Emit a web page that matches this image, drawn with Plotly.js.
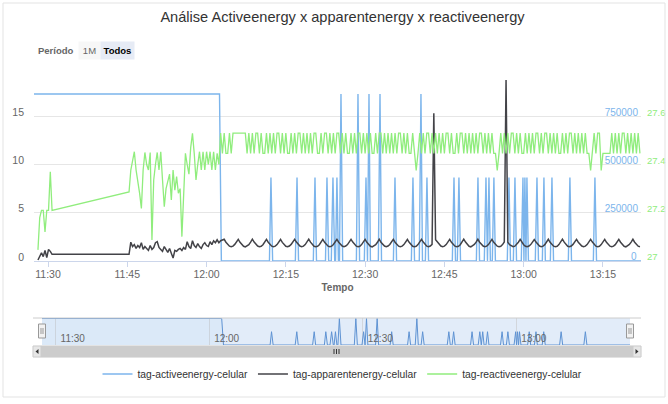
<!DOCTYPE html>
<html><head><meta charset="utf-8">
<script src="https://cdn.plot.ly/plotly-3.0.1.min.js"></script>
<style>html,body{margin:0;padding:0;background:#fff;}#chart{width:668px;height:404px;}</style>
</head><body><div id="chart"></div>
<script>
const chartTitle = 'Análise Activeenergy x apparentenergy x reactiveenergy';
const seriesNames = ['tag-activeenergy-celular', 'tag-apparentenergy-celular', 'tag-reactiveenergy-celular'];
const seriesColors = ['#7cb5ec', '#434348', '#90ed7d'];
const xAxisTitle = 'Tempo';
const rangeLabel = 'Período';
const rangeButtons = ['1M', 'Todos'];
const day = '2024-05-10';

// activeenergy: minutes after 11:00 and values
const activeMinutes = [27.35, 62.45, 62.8,
  71.9, 72.19, 72.5, 76.8, 77.11, 77.4, 80.2, 80.51, 80.8, 82.5, 82.78, 83.1,
  83.6, 83.92, 84.25, 84.4, 84.67, 84.95, 85.15, 85.43, 85.75,
  88.35, 88.65, 88.95, 89.85, 90.16, 90.45, 90.73, 91.0,
  92.5, 92.81, 93.1, 95.35, 95.65, 95.95, 98.75, 99.05, 99.35,
  100.25, 100.56, 100.85, 101.4, 101.7, 102.0, 106.5, 106.81, 107.1,
  107.45, 107.75, 108.05, 111.05, 111.35, 111.65,
  112.55, 112.86, 113.15, 113.43, 113.7, 114.07, 114.37, 114.65,
  116.9, 117.21, 117.5, 118.05, 118.35, 118.65,
  119.55, 119.86, 120.05, 120.24, 120.43, 120.62, 120.9,
  122.2, 122.51, 122.8, 123.53, 123.83, 124.1, 125.05, 125.35, 125.65,
  128.45, 128.75, 129.05, 133.18, 133.48, 133.78, 142.2];
const activeValues = [865000, 865000, 0,
  0, 433000, 0, 0, 433000, 0, 0, 433000, 0, 0, 433000, 0,
  0, 433000, 0, 0, 433000, 0, 0, 865000, 0,
  0, 865000, 0, 0, 433000, 0, 865000, 0,
  0, 865000, 0, 0, 433000, 0, 0, 433000, 0,
  0, 865000, 0, 0, 433000, 0, 0, 433000, 0,
  0, 433000, 0, 0, 433000, 0,
  0, 433000, 0, 433000, 0, 0, 433000, 0,
  0, 433000, 0, 0, 433000, 0,
  0, 433000, 0, 433000, 0, 433000, 0,
  0, 433000, 0, 0, 433000, 0, 0, 433000, 0,
  0, 433000, 0, 0, 433000, 0, 0];

// apparent / reactive energy: sampled every 20 s in two runs
const sampleSeconds = 20;
const run1Start = '11:28:06';
const apparent1 = [0.1, 0.5, 0.85, 0.45, 1.1, 0.35, 1.2, 1.0, 0.69];
const reactive1 = [27.046, 27.18, 27.21, 27.21, 27.12, 27.21, 27.21, 27.37, 27.21];

const run2Start = '11:45:20';
const apparent2 = [
  0.69,1.95,1.5,1.7,1.3,1.6,1.4,1.9,1.2,1.5, 1.3,1.1,1.6,1.2,1.4,1.9,2.0,1.4,1.2,1.0,
  1.5,1.2,0.9,1.3,0.7,0.3,1.1,1.0,1.2,1.3, 1.1,1.4,1.2,2.0,1.5,1.3,2.1,1.6,1.4,1.8,
  1.5,1.3,1.7,1.9,1.6,1.5,2.0,1.7,2.1,1.9, 2.2,1.9,
  2.1,2.2,
  2.25,1.95,1.7,1.54,1.48,1.54,1.72,1.98,
  2.24,1.94,1.69,1.53,1.47,1.55,1.7,1.96,
  2.26,1.96,1.71,1.55,1.49,1.53,1.69,1.95,
  2.25,1.95,1.7,1.54,1.48,1.54,1.7,1.95,
  2.23,1.93,1.68,1.52,1.47,1.55,1.72,1.97,
  2.25,1.96,1.71,1.55,1.49,1.54,1.7,1.94,
  2.26,1.95,1.7,1.53,1.48,1.53,1.69,1.96,
  2.24,1.94,1.7,1.54,1.47,1.54,1.71,1.95,
  2.25,1.95,1.69,1.55,1.49,1.55,1.7,1.97,
  2.25,1.96,1.71,1.54,1.48,1.53,1.7,1.95,
  2.24,1.94,1.7,1.53,1.47,1.54,1.69,1.94,
  2.26,1.95,1.7,1.55,1.48,1.55,1.71,1.96,
  2.25,1.95,1.69,1.54,1.49,1.54,1.7,1.95,
  2.23,1.94,1.71,1.53,1.47,1.53,1.7,1.97,
  2.25,1.96,1.7,1.54,1.48,1.55,1.72,15.3,
  2.2,1.95,1.7,1.55,1.49,1.54,1.7,1.95,
  2.24,1.94,1.69,1.54,1.48,1.53,1.69,1.96,
  2.26,1.96,1.71,1.53,1.47,1.55,1.71,1.95,
  2.25,1.95,1.7,1.55,1.48,1.54,1.7,1.94,
  2.24,1.94,1.7,1.54,1.49,1.53,1.7,1.97,
  18.76,1.95,1.7,1.54,1.48,1.54,1.71,1.95,
  2.25,1.95,1.69,1.53,1.47,1.55,1.7,1.96,
  2.23,1.96,1.71,1.55,1.49,1.54,1.69,1.95,
  2.25,1.94,1.7,1.54,1.48,1.53,1.7,1.94,
  2.26,1.95,1.7,1.53,1.47,1.55,1.72,1.97,
  2.24,1.95,1.69,1.55,1.48,1.54,1.7,1.95,
  2.25,1.96,1.71,1.54,1.49,1.53,1.7,1.96,
  2.25,1.94,1.7,1.54,1.48,1.54,1.69,1.95,
  2.24,1.95,1.7,1.53,1.47,1.55,1.71,1.96,
  2.25,1.95,1.7,1.54,1.48];
const reactive2 = [
  27.286,27.377,27.42,27.453,27.377,27.336,27.28,27.218,27.377,27.45,
  27.40,27.377,27.45,27.087,27.336,27.40,27.45,27.377,27.453,27.336,
  27.225,27.30,27.336,27.36,27.253,27.377,27.294,27.35,27.281,27.30,
  27.101,27.294,27.446,27.40,27.36,27.47,27.529,27.446,27.336,27.40,
  27.453,27.377,27.453,27.377,27.453,27.40,27.453,27.377,27.453,27.377,
  27.446,27.40,
  27.53,27.446,27.53,27.446,27.446,27.53,27.446,27.53,27.53,27.53,
  27.53,27.53,27.53,27.53,27.53,27.446,27.53,27.446,27.53,27.446,
  27.53,27.53,27.446,27.53,27.446,27.446,27.53,27.446,27.53,27.446,
  27.53,27.446,27.53,27.53,27.446,27.53,27.446,27.53,27.446,27.446,
  27.53,27.446,27.53,27.446,27.53,27.53,27.446,27.53,27.446,27.53,
  27.446,27.53,27.446,27.53,27.53,27.446,27.446,27.53,27.446,27.53,
  27.53,27.446,27.53,27.446,27.53,27.446,27.53,27.53,27.446,27.53,
  27.446,27.53,27.446,27.446,27.53,27.446,27.53,27.446,27.53,27.53,
  27.446,27.53,27.446,27.53,27.446,27.53,27.446,27.446,27.53,27.446,
  27.53,27.53,27.446,27.53,27.446,27.53,27.446,27.53,27.446,27.53,
  27.446,27.53,27.53,27.446,27.53,27.446,27.53,27.446,27.446,27.53,
  27.446,27.375,27.446,27.53,27.446,27.53,27.446,27.53,27.53,27.446,
  27.53,27.446,27.53,27.446,27.53,27.446,27.53,27.446,27.53,27.53,
  27.446,27.53,27.446,27.446,27.53,27.446,27.53,27.53,27.446,27.53,
  27.446,27.53,27.446,27.53,27.446,27.53,27.446,27.53,27.53,27.446,
  27.53,27.446,27.53,27.446,27.53,27.446,27.446,27.375,27.446,27.53,
  27.446,27.53,27.446,27.53,27.446,27.53,27.53,27.446,27.53,27.446,
  27.53,27.446,27.446,27.53,27.446,27.53,27.446,27.53,27.446,27.53,
  27.53,27.446,27.53,27.446,27.53,27.53,27.446,27.53,27.446,27.53,
  27.446,27.53,27.446,27.446,27.53,27.446,27.53,27.446,27.53,27.53,
  27.446,27.53,27.446,27.53,27.446,27.53,27.446,27.53,27.446,27.446,
  27.375,27.446,27.53,27.446,27.53,27.53,27.375,27.446,27.446,27.446,
  27.446,27.446,27.53,27.446,27.53,27.446,27.53,27.446,27.53,27.53,
  27.446,27.53,27.446,27.53,27.446,27.53,27.446,27.53,27.446];

const activeTicks = [250000, 500000, 750000, 1000000];
const activeTickText = ['250000', '500000', '750000', ''];
const activeZeroLabel = '0';
const apparentTicks = [0, 5, 10, 15];
const reactiveTicks = [27, 27.2, 27.4, 27.6];
const reactiveTickText = ['27', '27.2', '27.4', '27.6'];

// ---------- helpers ----------
const pad2 = v => String(v).padStart(2, '0');
const toSec = hms => { const p = hms.split(':').map(Number); return p[0]*3600 + p[1]*60 + p[2]; };
const stamp = sec => { const t = Math.round(sec); return day + ' ' + pad2(Math.floor(t/3600)) + ':' + pad2(Math.floor(t%3600/60)) + ':' + pad2(t%60); };
const activeX = activeMinutes.map(m => stamp(11*3600 + m*60));
const runTimes = (start, arr) => arr.map((_, i) => stamp(toSec(start) + i*sampleSeconds));
const gridX = runTimes(run1Start, apparent1).concat(runTimes(run2Start, apparent2));
const apparentY = apparent1.concat(apparent2);
const reactiveY = reactive1.concat(reactive2);
const xRange = [activeX[0], activeX[activeX.length - 1]];

// pixel helpers for decoration (layout only)
const L = 34, R = 641, H = 404;
const px = x => (x - L) / (R - L);
const py = y => (H - y) / H;
const FONT = 'Liberation Sans, Arial, sans-serif';

const traces = [
  {x: activeX, y: activeValues, name: seriesNames[0], type: 'scatter', mode: 'lines', xaxis: 'x', yaxis: 'y',
   line: {color: seriesColors[0], width: 1.4}},
  {x: gridX, y: apparentY, name: seriesNames[1], type: 'scatter', mode: 'lines', xaxis: 'x', yaxis: 'y2',
   line: {color: seriesColors[1], width: 1.5}},
  {x: gridX, y: reactiveY, name: seriesNames[2], type: 'scatter', mode: 'lines', xaxis: 'x', yaxis: 'y3',
   line: {color: seriesColors[2], width: 1.3}},
  {x: activeX, y: activeValues, name: seriesNames[0], type: 'scatter', mode: 'lines', xaxis: 'x2', yaxis: 'y4',
   line: {color: '#5f93d3', width: 1}, fill: 'tozeroy', fillcolor: 'rgba(124,181,236,0.06)', showlegend: false, hoverinfo: 'skip'}
];

const shapes = [
  {type: 'rect', xref: 'paper', yref: 'paper', x0: px(3), x1: px(665), y0: py(397), y1: py(3), line: {color: '#e3e3e3', width: 1}},
  {type: 'rect', xref: 'paper', yref: 'paper', x0: px(42), x1: px(630), y0: py(345), y1: py(318), fillcolor: 'rgba(110,160,225,0.2)', line: {width: 0}, layer: 'below'},
  {type: 'line', xref: 'paper', yref: 'paper', x0: px(33), x1: px(641), y0: py(318), y1: py(318), line: {color: '#cccccc', width: 1}},
  // scrollbar
  {type: 'rect', xref: 'paper', yref: 'paper', x0: px(33), x1: px(641), y0: py(357), y1: py(346), fillcolor: '#f2f2f2', line: {color: '#f2f2f2', width: 1}},
  {type: 'rect', xref: 'paper', yref: 'paper', x0: px(41), x1: px(633), y0: py(357), y1: py(346), fillcolor: '#cccccc', line: {color: '#cccccc', width: 1}},
  {type: 'rect', xref: 'paper', yref: 'paper', x0: px(33), x1: px(41), y0: py(357), y1: py(346), fillcolor: '#e6e6e6', line: {color: '#cccccc', width: 1}},
  {type: 'rect', xref: 'paper', yref: 'paper', x0: px(633), x1: px(641), y0: py(357), y1: py(346), fillcolor: '#e6e6e6', line: {color: '#cccccc', width: 1}},
  {type: 'path', xref: 'paper', yref: 'paper', path: `M${px(38.5)},${py(349)} L${px(35.5)},${py(351.5)} L${px(38.5)},${py(354)} Z`, fillcolor: '#333', line: {width: 0}},
  {type: 'path', xref: 'paper', yref: 'paper', path: `M${px(635.5)},${py(349)} L${px(638.5)},${py(351.5)} L${px(635.5)},${py(354)} Z`, fillcolor: '#333', line: {width: 0}},
  {type: 'line', xref: 'paper', yref: 'paper', x0: px(334), x1: px(334), y0: py(349), y1: py(354), line: {color: '#333', width: 1}},
  {type: 'line', xref: 'paper', yref: 'paper', x0: px(336.5), x1: px(336.5), y0: py(349), y1: py(354), line: {color: '#333', width: 1}},
  {type: 'line', xref: 'paper', yref: 'paper', x0: px(339), x1: px(339), y0: py(349), y1: py(354), line: {color: '#333', width: 1}},
  // navigator handles
  {type: 'rect', xref: 'paper', yref: 'paper', x0: px(38.5), x1: px(45.5), y0: py(338), y1: py(324), fillcolor: '#f2f2f2', line: {color: '#999', width: 1}},
  {type: 'rect', xref: 'paper', yref: 'paper', x0: px(626.5), x1: px(633.5), y0: py(338), y1: py(324), fillcolor: '#f2f2f2', line: {color: '#999', width: 1}},
  {type: 'line', xref: 'paper', yref: 'paper', x0: px(41), x1: px(41), y0: py(334), y1: py(328), line: {color: '#999', width: 1}},
  {type: 'line', xref: 'paper', yref: 'paper', x0: px(43), x1: px(43), y0: py(334), y1: py(328), line: {color: '#999', width: 1}},
  {type: 'line', xref: 'paper', yref: 'paper', x0: px(629), x1: px(629), y0: py(334), y1: py(328), line: {color: '#999', width: 1}},
  {type: 'line', xref: 'paper', yref: 'paper', x0: px(631), x1: px(631), y0: py(334), y1: py(328), line: {color: '#999', width: 1}}
];

const annotations = [
  {text: rangeLabel, xref: 'paper', yref: 'paper', x: px(56), y: py(50), showarrow: false, xanchor: 'center', yanchor: 'middle',
   font: {family: FONT, size: 9.5, color: '#666', weight: 'bold'}},
  {text: rangeButtons[0], xref: 'paper', yref: 'paper', x: px(89.5), y: py(50), showarrow: false, xanchor: 'center', yanchor: 'middle',
   width: 19, height: 15, bgcolor: '#f7f7f7', font: {family: FONT, size: 9.5, color: '#666'}},
  {text: rangeButtons[1], xref: 'paper', yref: 'paper', x: px(117.5), y: py(50), showarrow: false, xanchor: 'center', yanchor: 'middle',
   width: 31, height: 15, bgcolor: '#e6ebf5', font: {family: FONT, size: 9.5, color: '#000', weight: 'bold'}},
  {text: activeZeroLabel, xref: 'paper', yref: 'y', x: 1, y: 0, xanchor: 'right', yanchor: 'middle', yshift: 5, xshift: -2, showarrow: false,
   font: {family: FONT, size: 10, color: seriesColors[0]}}
];

const mainDomain = [py(261), py(68)];
const layout = {
  width: 668, height: 404, autosize: false,
  margin: {l: L, r: 668 - R, t: 0, b: 0, pad: 0},
  paper_bgcolor: '#fff', plot_bgcolor: 'rgba(0,0,0,0)',
  font: {family: FONT, color: '#666'},
  title: {text: chartTitle, font: {family: FONT, size: 14.6, color: '#333'}, xref: 'paper', x: px(342.5), xanchor: 'center',
          yref: 'container', y: 1 - 17/404, yanchor: 'middle'},
  showlegend: true,
  legend: {orientation: 'h', x: px(342.5), xanchor: 'center', y: py(374), yanchor: 'middle', font: {family: FONT, size: 10.3, color: '#333'},
           bgcolor: 'rgba(0,0,0,0)', itemwidth: 30, traceorder: 'normal'},
  xaxis: {domain: [0, 1], anchor: 'y', type: 'date', range: xRange, tick0: day + ' 11:30:00', dtick: 15*60*1000, tickformat: '%H:%M',
          showline: true, linecolor: '#ccd6eb', linewidth: 1, ticks: 'outside', ticklen: 5, tickcolor: '#ccd6eb', showgrid: false, zeroline: false,
          ticklabelstandoff: -2,
          tickfont: {family: FONT, size: 10.5, color: '#666'},
          title: {text: xAxisTitle, font: {family: FONT, size: 10, color: '#666', weight: 'bold'}, standoff: 5}, fixedrange: true},
  yaxis: {domain: mainDomain, anchor: 'x', side: 'right', range: [0, 1000000], tickvals: activeTicks, ticktext: activeTickText,
          ticklabelposition: 'inside', ticklabelshift: -4, tickfont: {family: FONT, size: 10, color: seriesColors[0]},
          showgrid: true, gridcolor: '#e6e6e6', gridwidth: 1, zeroline: false, showline: false, fixedrange: true},
  yaxis2: {overlaying: 'y', anchor: 'x', side: 'left', range: [0, 20], tickvals: apparentTicks, showgrid: false, zeroline: false,
           showline: false, ticklabelshift: -4, ticklabelstandoff: 9, tickfont: {family: FONT, size: 10.5, color: '#666'}, fixedrange: true},
  yaxis3: {overlaying: 'y', anchor: 'x', side: 'right', range: [27, 27.8], tickvals: reactiveTicks, ticktext: reactiveTickText,
           showgrid: false, zeroline: false, showline: false, ticklabelshift: -4, ticklabelstandoff: 5,
           tickfont: {family: FONT, size: 9.5, color: seriesColors[2]}, fixedrange: true},
  xaxis2: {domain: [px(42), px(630)], anchor: 'y4', type: 'date', range: xRange, tick0: day + ' 11:30:00', dtick: 30*60*1000, tickformat: '%H:%M',
           ticklabelposition: 'inside right', ticklabelshift: 5, ticklabelstandoff: -5,
           tickfont: {family: FONT, size: 10, color: '#666'}, showgrid: true, gridcolor: 'rgba(200,200,200,0.6)',
           showline: false, zeroline: false, fixedrange: true},
  yaxis4: {domain: [py(345), py(318)], anchor: 'x2', range: [0, 880000], visible: false, fixedrange: true},
  shapes: shapes,
  annotations: annotations
};

Plotly.newPlot('chart', traces, layout, {displayModeBar: false, responsive: false});
</script>
</body></html>
